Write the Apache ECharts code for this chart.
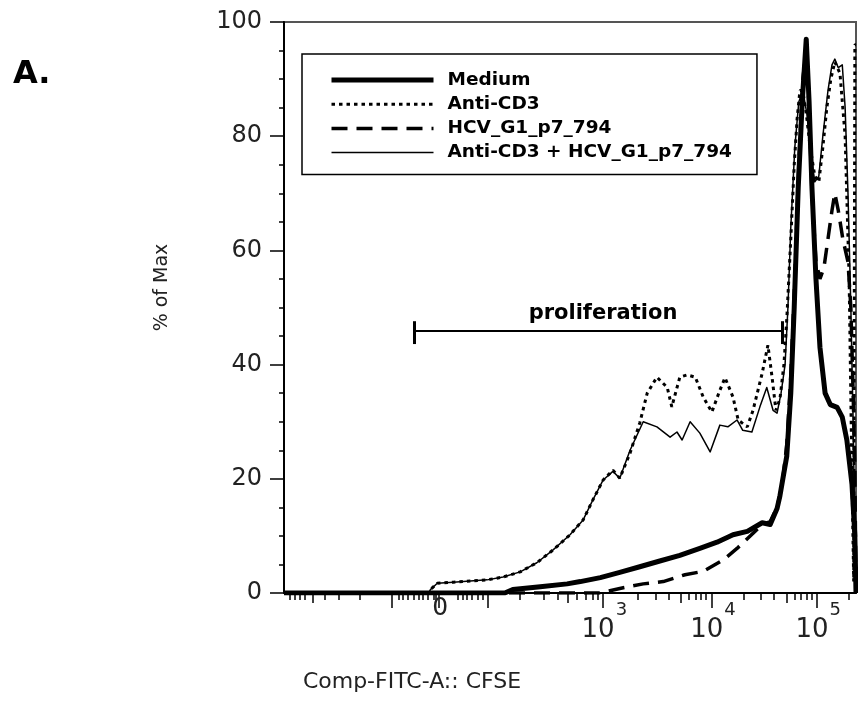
<!DOCTYPE html>
<html>
<head>
<meta charset="utf-8">
<style>html,body{margin:0;padding:0;background:#fff}#main{width:858px;height:702px}</style>
<script src="https://cdn.jsdelivr.net/npm/echarts@6/dist/echarts.min.js"></script>
</head>
<body>
<div id="main"></div>
<script>
// x is in display channels (0-1000) of the biexponential CFSE scale
var seriesNames = ['Medium', 'Anti-CD3', 'HCV_G1_p7_794', 'Anti-CD3 + HCV_G1_p7_794'];

var medium = [[0,0],[386,0],[400,0.6],[448,1.1],[495,1.6],[518,2.0],[553,2.7],[587,3.6],[622,4.6],[657,5.6],[692,6.6],[727,7.8],[757,8.9],[785,10.2],[810,10.8],[836,12.3],[850,12.0],[862,14.8],[867,17],[879,24],[886,35],[892,50],[899,71],[906,86],[913,97],[918,86],[923,71],[930,55],[937,43],[946,35],[955,33],[967,32.5],[976,30.8],[984,26.8],[993,19],[998,10],[1000,0]];

var antiCD3 = [[0,0],[253,0],[256,0.6],[268,1.7],[296,1.9],[355,2.3],[383,2.8],[413,3.7],[442,5.3],[470,7.5],[500,10.2],[523,12.8],[540,16.3],[558,19.8],[575,21.5],[587,20.1],[605,24.5],[622,29.8],[635,35],[652,37.8],[670,36],[678,32.6],[692,37.8],[705,38.2],[719,37.8],[733,34.3],[748,31.7],[762,35.5],[771,37.7],[785,34.3],[794,30.3],[810,29.1],[820,32],[836,38.5],[846,43.4],[853,38],[860,32],[867,34],[874,40],[879,48],[886,62],[892,75],[897,83],[902,88],[907,88],[913,84],[920,78],[928,73],[935,72],[942,78],[949,85],[956,90],[963,93],[972,91],[981,80],[988,55],[993,20],[996,2],[998,96],[1000,96]];

var hcv = [[0,0],[552,0],[587,0.8],[628,1.6],[663,2.0],[701,3.2],[733,3.8],[768,5.8],[792,7.8],[815,10],[836,12],[850,12.5],[862,15],[871,19],[879,26],[886,38],[893,55],[900,75],[907,90],[913,95],[918,85],[923,70],[930,58],[937,55],[944,57],[951,62],[958,67],[963,70],[969,67],[977,62],[986,58],[991,50],[995,35],[998,22],[1000,0]];

var antiCD3Hcv = [[0,0],[253,0],[256,0.6],[268,1.7],[296,1.9],[355,2.3],[383,2.8],[413,3.7],[442,5.3],[470,7.5],[500,10.2],[523,12.8],[540,16.3],[558,19.8],[575,21.3],[587,20.1],[605,25],[628,30],[652,29.1],[675,27.3],[687,28.2],[696,26.8],[710,30],[727,28],[745,24.7],[762,29.4],[776,29.1],[792,30.3],[802,28.5],[818,28.2],[832,32.6],[844,36],[855,32],[862,31.5],[869,35],[876,40],[881,50],[886,64],[893,78],[900,86],[907,88],[914,84],[921,77],[928,72],[935,73],[942,80],[951,88],[958,92.5],[963,93.5],[969,92],[976,92.5],[981,85],[986,70],[991,50],[995,30],[998,10],[1000,0]];

// tick marks on the biex axis
var zeroLabelPos = [273];
var decadeLabelPos = [560, 750, 934];
var decadeLabelText = ['10^3', '10^4', '10^5'];
var majorTicks = [189, 270, 357, 558, 748, 932];
var mediumTicks = [51, 496, 693, 879];
var shortTicks = [10, 19, 28, 37, 72, 95, 133, 200, 208, 217, 226, 235, 243, 252, 261, 266, 303, 312, 320, 329, 338, 347, 413, 454, 478, 511, 527, 539, 548, 618, 650, 672, 708, 720, 729, 737, 804, 834, 856, 893, 904, 914, 923, 988];

// proliferation gate
var gateText = 'proliferation';
var gateX = [227, 871];
var gateY = 46;
var gateCap = [43.6, 47.6];

var font = 'DejaVu Sans';
var chart = echarts.init(document.getElementById('main'));

function tickAxis(ticks, len) {
  return {
    type: 'value', min: 0, max: 1000, position: 'bottom',
    axisLine: { show: false },
    axisLabel: { show: false },
    splitLine: { show: false },
    axisTick: { show: true, length: len, customValues: ticks, lineStyle: { color: '#000', width: 1.5 } }
  };
}

var mediumAxis = tickAxis(mediumTicks, 10);
mediumAxis.axisLabel = {
  show: true, customValues: decadeLabelPos, margin: 15,
  formatter: function (v) {
    var t = '';
    for (var i = 0; i < decadeLabelPos.length; i++) {
      if (Math.abs(v - decadeLabelPos[i]) < 1) t = decadeLabelText[i];
    }
    var p = t.split('^');
    return '{b|' + p[0] + '}{s|' + p[1] + '}';
  },
  rich: {
    b: { fontFamily: font, fontSize: 26, color: '#222', lineHeight: 24, padding: [20, 0, 0, 0] },
    s: { fontFamily: font, fontSize: 18, color: '#222', lineHeight: 17, padding: [0, 0, 20, 1] }
  }
};

var option = {
  animation: false,
  title: {
    text: 'A.', left: 8, top: 54,
    textStyle: { fontFamily: font, fontWeight: 'bold', fontSize: 32, color: '#000' }
  },
  legend: {
    orient: 'vertical', left: 302, top: 54,
    padding: [16, 25, 12, 27],
    itemWidth: 102, itemHeight: 14, itemGap: 4.2, itemTextGap: 20,
    backgroundColor: '#fff', borderColor: '#000', borderWidth: 1.5,
    selectedMode: false,
    itemStyle: { opacity: 0 },
    lineStyle: { width: 'inherit' },
    data: seriesNames,
    textStyle: { fontFamily: font, fontWeight: 'bold', fontSize: 18.5, color: '#000', lineHeight: 20, padding: [0, 0, 0, 9] }
  },
  grid: {
    left: 284, top: 22, right: 2, bottom: 109,
    show: true, borderColor: '#555', borderWidth: 2,
    outerBoundsMode: 'none'
  },
  xAxis: [
    {
      type: 'value', min: 0, max: 1000, position: 'bottom',
      name: 'Comp-FITC-A:: CFSE', nameLocation: 'middle', nameGap: 78,
      nameTextStyle: { fontFamily: font, fontSize: 22, color: '#222', padding: [0, 316, 0, 0] },
      axisLine: { show: true, onZero: false, lineStyle: { color: '#000', width: 2 } },
      axisTick: { show: true, length: 15, customValues: majorTicks, lineStyle: { color: '#000', width: 1.5 } },
      splitLine: { show: false },
      axisLabel: {
        customValues: zeroLabelPos, margin: 6,
        formatter: function () { return '0'; },
        fontFamily: font, fontSize: 25, color: '#222', lineHeight: 18
      }
    },
    mediumAxis,
    tickAxis(shortTicks, 7)
  ],
  yAxis: {
    type: 'value', min: 0, max: 100, interval: 20,
    name: '% of Max', nameLocation: 'middle', nameGap: 112,
    nameTextStyle: { fontFamily: font, fontSize: 19, color: '#222', padding: [0, 0, 0, 40] },
    axisLine: { show: true, lineStyle: { color: '#000', width: 2 } },
    axisTick: { show: true, length: 14, lineStyle: { color: '#000', width: 1.5 } },
    minorTick: { show: true, splitNumber: 4, length: 5, lineStyle: { color: '#000', width: 1.5 } },
    splitLine: { show: false },
    minorSplitLine: { show: false },
    axisLabel: { fontFamily: font, fontSize: 24, color: '#222', margin: 22 }
  },
  series: [
    {
      name: seriesNames[3], type: 'line', data: antiCD3Hcv, symbol: 'none',
      lineStyle: { color: '#000', width: 1.5, join: 'round' }, itemStyle: { color: '#000' }
    },
    {
      name: seriesNames[1], type: 'line', data: antiCD3, symbol: 'none',
      lineStyle: { color: '#000', width: 3, type: [3.5, 4] }, itemStyle: { color: '#000' }
    },
    {
      name: seriesNames[2], type: 'line', data: hcv, symbol: 'none',
      lineStyle: { color: '#000', width: 3.5, type: [16, 9] }, itemStyle: { color: '#000' }
    },
    {
      name: seriesNames[0], type: 'line', data: medium, symbol: 'none',
      lineStyle: { color: '#000', width: 5, join: 'round' }, itemStyle: { color: '#000' }
    },
    {
      name: 'gate', type: 'line', data: [], symbol: 'none',
      markLine: {
        silent: true, symbol: ['none', 'none'], animation: false,
        lineStyle: { color: '#000', width: 2, type: 'solid' },
        label: { show: false },
        data: [
          [
            { coord: [gateX[0], gateY], label: { show: true, position: 'insideMiddleTop', formatter: gateText, distance: 6, padding: [0, 0, 0, 10], fontFamily: font, fontWeight: 'bold', fontSize: 21, color: '#000' } },
            { coord: [gateX[1], gateY] }
          ],
          [{ coord: [gateX[0], gateCap[0]], lineStyle: { width: 3 } }, { coord: [gateX[0], gateCap[1]] }],
          [{ coord: [gateX[1], gateCap[0]], lineStyle: { width: 3 } }, { coord: [gateX[1], gateCap[1]] }]
        ]
      }
    }
  ]
};

chart.setOption(option);
</script>
</body>
</html>
